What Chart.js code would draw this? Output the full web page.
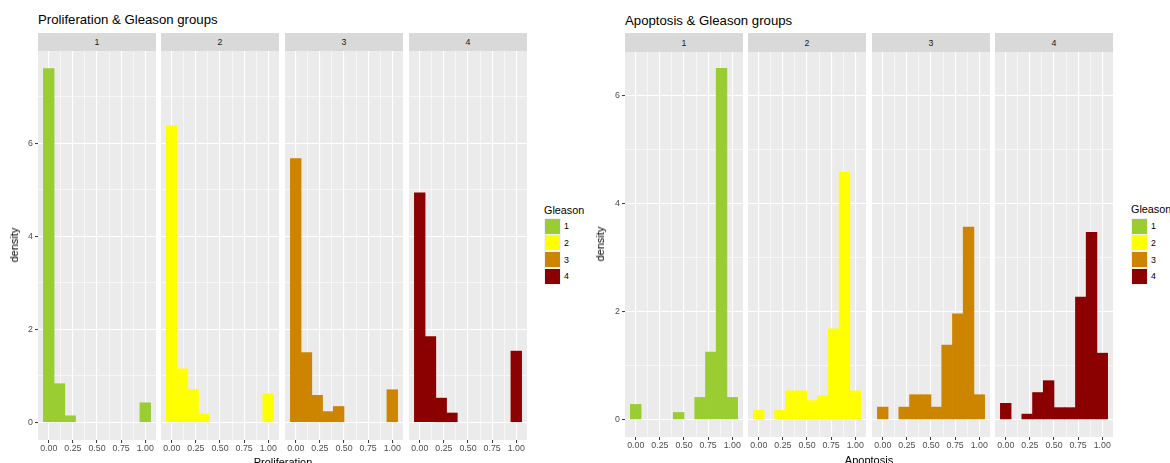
<!DOCTYPE html>
<html>
<head>
<meta charset="utf-8">
<script src="https://cdn.jsdelivr.net/npm/chart.js@4.4.1/dist/chart.umd.min.js"></script>
<style>
  html, body { margin: 0; padding: 0; background: #ffffff; }
  body { position: relative; width: 1170px; height: 463px; overflow: hidden;
         font-family: "Liberation Sans", Arial, sans-serif; }
  .txt { position: absolute; white-space: nowrap; }
  .title { font-size: 13.2px; color: #000; line-height: 16px; }
  .strip { position: absolute; background: #D9D9D9; color: #1A1A1A; font-size: 8.8px;
           display: flex; align-items: center; justify-content: center; }
  .axtitle { font-size: 11px; color: #000; line-height: 12px; }
  .ytitle { transform: translate(-50%, -50%) rotate(-90deg); }
  .legtitle { font-size: 10.8px; color: #000; line-height: 12px; }
  .key { position: absolute; width: 17px; height: 17px; background: #F2F2F2; box-sizing: border-box; border: 1px solid #F2F2F2; }
  .key span { display: block; width: 100%; height: 100%; }
  .legtext { font-size: 8.8px; color: #000; line-height: 10px; }
  canvas { position: absolute; }
</style>
</head>
<body>
<script>
// Gleason groups and their fill colours
const gleasonGroups = ['1', '2', '3', '4'];
const gleasonColors = ['#9ACD32', '#FFFF00', '#CD8500', '#8B0000'];

// Histogram bin centres (10 bins over 0..1)
const binCenters = [0, 0.1111, 0.2222, 0.3333, 0.4444, 0.5556, 0.6667, 0.7778, 0.8889, 1];

// Axis breaks
const xMajorTicks = [0, 0.25, 0.5, 0.75, 1];
const xMinorTicks = [0.125, 0.375, 0.625, 0.875];
const yMajorTicks = [0, 2, 4, 6];
const prolifMinorTicks = [1, 3, 5, 7];
const apopMinorTicks = [1, 3, 5];

// Proliferation densities per Gleason group
const prolifG1 = [7.60, 0.83, 0.14, 0, 0, 0, 0, 0, 0, 0.42];
const prolifG2 = [6.37, 1.15, 0.71, 0.18, 0, 0, 0, 0, 0, 0.61];
const prolifG3 = [5.67, 1.50, 0.58, 0.23, 0.34, 0, 0, 0, 0, 0.70];
const prolifG4 = [4.93, 1.84, 0.52, 0.20, 0, 0, 0, 0, 0, 1.53];

// Apoptosis densities per Gleason group
const apopG1 = [0.28, 0, 0, 0, 0.13, 0, 0.41, 1.25, 6.51, 0.41];
const apopG2 = [0.17, 0, 0.17, 0.53, 0.53, 0.35, 0.44, 1.68, 4.59, 0.53];
const apopG3 = [0.23, 0, 0.23, 0.46, 0.46, 0.23, 1.38, 1.96, 3.57, 0.46];
const apopG4 = [0.30, 0, 0.10, 0.50, 0.72, 0.22, 0.22, 2.27, 3.47, 1.23];

const FONT = 'Liberation Sans';

// Grey panel background behind each facet
const panelBg = {
  id: 'panelBg',
  beforeDraw(chart) {
    const { ctx, chartArea: a } = chart;
    ctx.save();
    ctx.fillStyle = '#EBEBEB';
    ctx.fillRect(a.left, a.top, a.right - a.left, a.bottom - a.top);
    ctx.restore();
  }
};

function addDiv(cls, text, style) {
  const d = document.createElement('div');
  d.className = cls;
  d.textContent = text;
  Object.assign(d.style, style);
  document.body.appendChild(d);
  return d;
}

function facet(opts) {
  const { left, top, width, height, showY, values, color, yMin, yMax, yMinor } = opts;
  const yW = showY ? 26 : 0;
  const xH = 24;
  const cv = document.createElement('canvas');
  cv.width = width + yW;
  cv.height = height + xH;
  cv.style.left = (left - yW) + 'px';
  cv.style.top = top + 'px';
  cv.style.width = (width + yW) + 'px';
  cv.style.height = (height + xH) + 'px';
  document.body.appendChild(cv);

  const xTicks = xMajorTicks.concat(xMinorTicks).sort((a, b) => a - b);
  const yTicks = yMajorTicks.concat(yMinor).sort((a, b) => a - b);
  const isMajX = v => xMajorTicks.some(t => Math.abs(t - v) < 1e-9);
  const isMajY = v => yMajorTicks.some(t => Math.abs(t - v) < 1e-9);

  new Chart(cv, {
    type: 'bar',
    data: {
      datasets: [{
        // empty bins are left undrawn
        data: binCenters.map((x, i) => ({ x: x, y: values[i] > 0 ? values[i] : null })),
        backgroundColor: color,
        borderWidth: 0,
        barPercentage: 1,
        categoryPercentage: 1
      }]
    },
    options: {
      responsive: false,
      maintainAspectRatio: false,
      animation: false,
      devicePixelRatio: 1,
      layout: { padding: 0 },
      plugins: { legend: { display: false }, tooltip: { enabled: false }, title: { display: false } },
      scales: {
        x: {
          type: 'linear',
          min: -0.1111, max: 1.1111,
          offset: false,
          border: { display: false },
          grid: {
            offset: false,
            drawTicks: true,
            tickLength: 3,
            tickWidth: 1,
            tickColor: c => isMajX(c.tick.value) ? '#333333' : 'rgba(0,0,0,0)',
            color: '#FFFFFF',
            lineWidth: c => isMajX(c.tick.value) ? 1.1 : 0.55
          },
          ticks: {
            autoSkip: false, maxRotation: 0, minRotation: 0, padding: 0,
            color: '#4D4D4D', font: { family: FONT, size: 8.8 },
            callback: v => isMajX(v) ? v.toFixed(2) : ''
          },
          afterBuildTicks: s => { s.ticks = xTicks.map(v => ({ value: v })); },
          afterFit: s => { s.height = xH; s.paddingLeft = 0; s.paddingRight = 0; s.paddingTop = 0; s.paddingBottom = 0; }
        },
        y: {
          type: 'linear',
          min: yMin, max: yMax,
          beginAtZero: false,
          border: { display: false },
          grid: {
            drawTicks: showY,
            tickLength: 3,
            tickWidth: 1,
            tickColor: c => isMajY(c.tick.value) ? '#333333' : 'rgba(0,0,0,0)',
            color: '#FFFFFF',
            lineWidth: c => isMajY(c.tick.value) ? 1.1 : 0.55
          },
          ticks: {
            display: showY, padding: 2, autoSkip: false,
            color: '#4D4D4D', font: { family: FONT, size: 8.8 },
            callback: v => isMajY(v) ? String(v) : ''
          },
          afterBuildTicks: s => { s.ticks = yTicks.map(v => ({ value: v })); },
          afterFit: s => { s.width = yW; s.paddingLeft = 0; s.paddingRight = 0; s.paddingTop = 0; s.paddingBottom = 0; }
        }
      }
    },
    plugins: [panelBg]
  });
}

function legend(x, titleY, keyTop) {
  addDiv('txt legtitle', 'Gleason', { left: x + 'px', top: (titleY - 6) + 'px' });
  gleasonGroups.forEach((g, i) => {
    const k = document.createElement('div');
    k.className = 'key';
    k.style.left = x + 'px';
    k.style.top = (keyTop + i * 16.8) + 'px';
    const s = document.createElement('span');
    s.style.background = gleasonColors[i];
    k.appendChild(s);
    document.body.appendChild(k);
    addDiv('txt legtext', g, { left: (x + 20) + 'px', top: (keyTop + i * 16.8 + 3.5) + 'px' });
  });
}

// ---- Proliferation & Gleason groups ----
const prolifSeries = [prolifG1, prolifG2, prolifG3, prolifG4];
const leftPanels = [38, 161, 285, 409];
addDiv('txt title', 'Proliferation & Gleason groups', { left: '38px', top: '12px' });
leftPanels.forEach((px, i) => {
  addDiv('strip', gleasonGroups[i], { left: px + 'px', top: '33px', width: '118px', height: '18px' });
  facet({ left: px, top: 51, width: 118, height: 389, showY: i === 0,
          values: prolifSeries[i], color: gleasonColors[i],
          yMin: -0.38, yMax: 7.98, yMinor: prolifMinorTicks });
});
addDiv('txt axtitle', 'Proliferation', { left: '283px', top: '456px', transform: 'translateX(-50%)' });
addDiv('txt axtitle ytitle', 'density', { left: '14px', top: '245px' });
legend(544, 210, 217.5);

// ---- Apoptosis & Gleason groups ----
const apopSeries = [apopG1, apopG2, apopG3, apopG4];
const rightPanels = [625, 748, 872, 995];
addDiv('txt title', 'Apoptosis & Gleason groups', { left: '625px', top: '13px' });
rightPanels.forEach((px, i) => {
  addDiv('strip', gleasonGroups[i], { left: px + 'px', top: '33px', width: '118px', height: '19px' });
  facet({ left: px, top: 52, width: 118, height: 385, showY: i === 0,
          values: apopSeries[i], color: gleasonColors[i],
          yMin: -0.3245, yMax: 6.8145, yMinor: apopMinorTicks });
});
addDiv('txt axtitle', 'Apoptosis', { left: '869px', top: '454px', transform: 'translateX(-50%)' });
addDiv('txt axtitle ytitle', 'density', { left: '600px', top: '244px' });
legend(1131, 209, 217.5);
</script>
</body>
</html>
